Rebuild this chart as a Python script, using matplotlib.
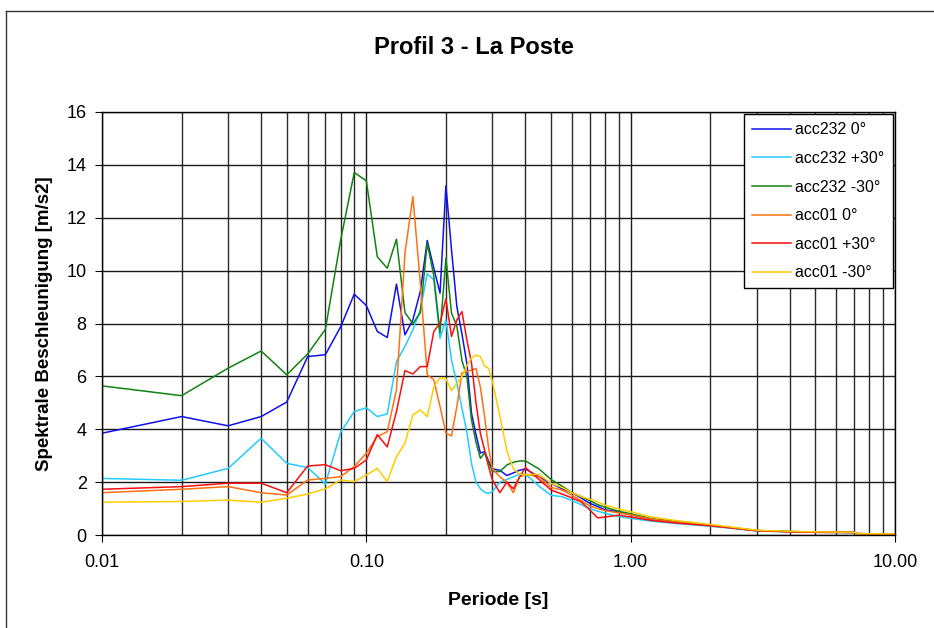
import matplotlib
matplotlib.use('Agg')
import matplotlib.pyplot as plt
from matplotlib.lines import Line2D
from matplotlib.ticker import FixedLocator, LogLocator, NullFormatter

plt.rcParams['font.family'] = ['Liberation Sans', 'DejaVu Sans']

periods = [0.01, 0.02, 0.03, 0.04, 0.05, 0.06, 0.07, 0.08, 0.09, 0.10,
           0.11, 0.12, 0.13, 0.14, 0.15, 0.16, 0.17, 0.18, 0.19, 0.20,
           0.21, 0.22, 0.23, 0.24, 0.25, 0.26, 0.27, 0.28, 0.29, 0.30,
           0.32, 0.34, 0.36, 0.38, 0.40,
           0.45, 0.50, 0.55, 0.60, 0.65, 0.70, 0.75, 0.80, 0.90, 1.0,
           1.2, 1.5, 2.0, 2.5, 3.0, 4.0, 5.0, 7.0, 7.2, 10.0]

acc232_0 = [3.85, 4.48, 4.13, 4.48, 5.03, 6.75, 6.82, 7.88, 9.11, 8.68,
            7.70, 7.47, 9.49, 7.57, 8.14, 9.21, 11.14, 10.09, 9.15, 13.21,
            10.79, 8.64, 7.6, 6.5, 4.6, 3.8, 3.1, 3.15, 2.8, 2.5,
            2.45, 2.25, 2.35, 2.45, 2.5,
            2.2, 1.95, 1.75, 1.6, 1.4, 1.2, 1.08, 0.95, 0.88, 0.76,
            0.6, 0.48, 0.36, 0.25, 0.16, 0.13, 0.11, 0.1, 0.05, 0.04]

acc232_p30 = [2.14, 2.07, 2.52, 3.66, 2.71, 2.55, 1.93, 3.89, 4.67, 4.81,
              4.48, 4.58, 6.56, 7.13, 7.76, 8.52, 9.88, 9.65, 7.44, 8.14,
              6.62, 5.74, 4.8, 3.9, 2.7, 2.0, 1.75, 1.62, 1.57, 1.65,
              2.0, 2.1, 2.2, 2.3, 2.3,
              1.85, 1.5, 1.45, 1.3, 1.15, 1.0, 0.9, 0.82, 0.7, 0.63,
              0.52, 0.43, 0.33, 0.24, 0.15, 0.12, 0.1, 0.09, 0.05, 0.04]

acc232_m30 = [5.64, 5.27, 6.31, 6.96, 6.06, 6.85, 7.78, 11.17, 13.71, 13.40,
              10.53, 10.09, 11.19, 8.41, 7.99, 8.41, 11.04, 9.8, 7.64, 10.47,
              8.39, 7.9, 6.6, 6.0, 4.35, 3.5, 2.9, 3.1, 2.75, 2.4,
              2.4, 2.65, 2.75, 2.8, 2.8,
              2.5, 2.1, 1.85, 1.6, 1.45, 1.3, 1.15, 1.05, 0.9, 0.8,
              0.62, 0.5, 0.37, 0.26, 0.17, 0.13, 0.11, 0.1, 0.05, 0.04]

acc01_0 = [1.6, 1.73, 1.83, 1.6, 1.51, 2.08, 2.14, 2.21, 2.59, 3.09,
           3.72, 3.91, 5.49, 10.66, 12.8, 9.53, 6.06, 5.87, 4.86, 3.85,
           3.75, 4.86, 6.14, 6.18, 6.24, 6.3, 5.6, 4.5, 3.3, 2.5,
           2.2, 2.0, 1.6, 2.2, 2.3,
           2.2, 1.8, 1.7, 1.5, 1.3, 1.1, 1.0, 0.92, 0.84, 0.76,
           0.6, 0.48, 0.36, 0.26, 0.17, 0.13, 0.11, 0.1, 0.05, 0.04]

acc01_p30 = [1.73, 1.83, 1.96, 1.96, 1.6, 2.61, 2.66, 2.43, 2.52, 2.84,
             3.8, 3.33, 4.67, 6.22, 6.09, 6.37, 6.37, 7.7, 8.01, 8.93,
             7.51, 8.14, 8.45, 7.38, 6.5, 4.99, 3.85, 3.22, 2.59, 2.08,
             1.6, 2.0, 1.75, 2.2, 2.55,
             2.1, 1.7, 1.55, 1.4, 1.25, 0.95, 0.65, 0.68, 0.75, 0.68,
             0.55, 0.45, 0.35, 0.25, 0.16, 0.12, 0.1, 0.09, 0.05, 0.04]

acc01_m30 = [1.24, 1.27, 1.32, 1.24, 1.39, 1.55, 1.75, 2.08, 2.02, 2.27,
             2.52, 2.02, 2.96, 3.47, 4.54, 4.73, 4.48, 5.6, 5.95, 5.91,
             5.46, 5.74, 6.0, 6.4, 6.7, 6.8, 6.75, 6.4, 6.3, 5.8,
             4.5, 3.2, 2.5, 2.3, 2.28,
             2.3, 1.95, 1.8, 1.6, 1.45, 1.35, 1.25, 1.13, 0.98, 0.88,
             0.68, 0.54, 0.4, 0.28, 0.18, 0.14, 0.12, 0.1, 0.05, 0.04]

series = [
    (acc232_0, 'acc232 0°', '#1010F0'),
    (acc232_p30, 'acc232 +30°', '#22CCFF'),
    (acc232_m30, 'acc232 -30°', '#128212'),
    (acc01_0, 'acc01 0°', '#FF7010'),
    (acc01_p30, 'acc01 +30°', '#F81010'),
    (acc01_m30, 'acc01 -30°', '#FFCC00'),
]

fig = plt.figure(figsize=(9.34, 6.28), dpi=100)
ax = fig.add_axes([102 / 934, 1 - 535 / 628, 793 / 934, 423 / 628])

for values, label, color in series:
    ax.plot(periods, values, color=color, lw=1.1, label=label)

ax.set_xscale('log')
ax.set_xlim(0.01, 10)
ax.set_ylim(0, 16)
ax.xaxis.set_major_locator(FixedLocator([0.01, 0.1, 1, 10]))
ax.set_xticklabels(['0.01', '0.10', '1.00', '10.00'])
ax.xaxis.set_minor_locator(LogLocator(base=10, subs=range(2, 10)))
ax.xaxis.set_minor_formatter(NullFormatter())
ax.set_yticks(range(0, 17, 2))

ax.grid(True, which='major', color='#1a1a1a', lw=1.0)
ax.grid(True, which='minor', axis='x', color='#2a2a2a', lw=1.0)
ax.set_axisbelow(True)

for s in ax.spines.values():
    s.set_color('black')
    s.set_linewidth(1.0)

ax.tick_params(axis='both', which='major', direction='out', length=5,
               labelsize=13, colors='black')
ax.tick_params(axis='x', which='major', pad=9)
ax.tick_params(axis='y', which='major', pad=6)
ax.tick_params(axis='x', which='minor', length=0)

ax.set_xlabel('Periode [s]', fontsize=14, fontweight='bold', labelpad=15)
ax.set_ylabel('Spektrale Beschleunigung [m/s2]', fontsize=13.5,
              fontweight='bold', labelpad=10)
fig.text(474 / 934, 1 - 47 / 628, 'Profil 3 - La Poste', fontsize=17,
         fontweight='bold', ha='center', va='center')

leg = ax.legend(loc='upper right', fontsize=11.5, fancybox=False,
                framealpha=1, edgecolor='black', borderaxespad=0.15,
                handlelength=2.4, handletextpad=0.3, labelspacing=0.85,
                borderpad=0.5)
leg.get_frame().set_linewidth(1.0)

# chart area border
y_top = 1 - 11 / 628
x_left = 6 / 934
fig.add_artist(Line2D([x_left, 1], [y_top, y_top], color='#333333', lw=1.0,
                      transform=fig.transFigure))
fig.add_artist(Line2D([x_left, x_left], [0, y_top], color='#333333', lw=1.0,
                      transform=fig.transFigure))

fig.savefig('out.png', dpi=100)
